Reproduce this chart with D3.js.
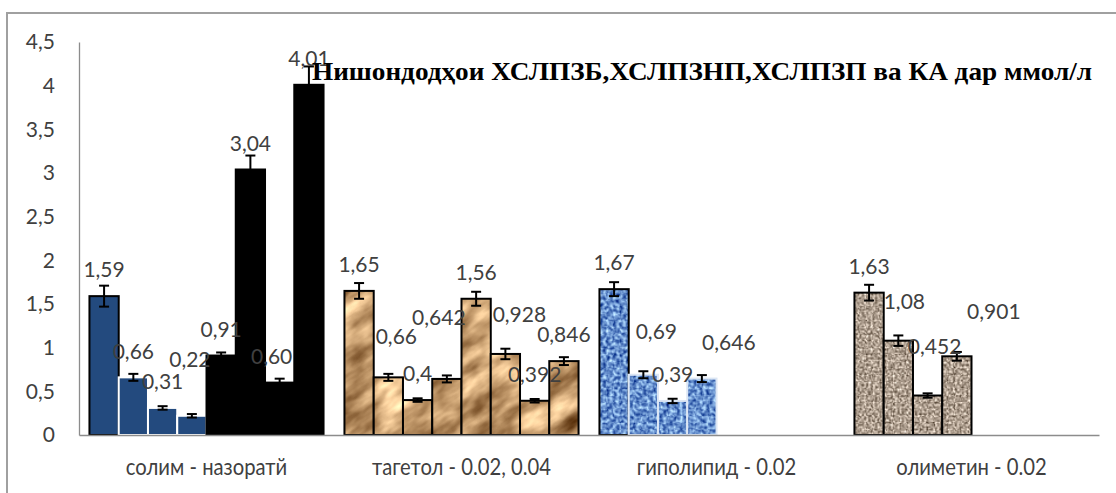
<!DOCTYPE html>
<html>
<head>
<meta charset="utf-8">
<script src="https://cdn.jsdelivr.net/npm/d3@7"></script>
<style>
  body { margin: 0; background: #fff; }
  #chart svg { display: block; }
</style>
</head>
<body>
<div id="chart"></div>
<script>
// категорияҳо ва қиматҳо
const categories = ["солим - назоратй", "тагетол - 0.02, 0.04", "гиполипид - 0.02", "олиметин - 0.02"];
const solimValues = [1.59, 0.66, 0.31, 0.22, 0.91, 3.04, 0.60, 4.01];
const solimErrors = [0.12, 0.04, 0.02, 0.02, 0.035, 0.16, 0.045, 0.21];
const tagetolValues = [1.65, 0.66, 0.4, 0.642, 1.56, 0.928, 0.392, 0.846];
const tagetolErrors = [0.09, 0.04, 0.02, 0.04, 0.08, 0.06, 0.02, 0.045];
const gipolipidValues = [1.67, 0.69, 0.39, 0.646];
const gipolipidErrors = [0.08, 0.04, 0.025, 0.04];
const olimetinValues = [1.63, 1.08, 0.452, 0.901];
const olimetinErrors = [0.09, 0.06, 0.025, 0.05];
const yTicks = [0, 0.5, 1, 1.5, 2, 2.5, 3, 3.5, 4, 4.5];
const titleText = "Нишондодҳои ХСЛПЗБ,ХСЛПЗНП,ХСЛПЗП ва КА дар ммол/л";

const groupValues = [solimValues, tagetolValues, gipolipidValues, olimetinValues];
const groupErrors = [solimErrors, tagetolErrors, gipolipidErrors, olimetinErrors];
const seriesCount = 8;

// ҷадвал барои чизҳо
const rows = [];
groupValues.forEach((vals, ci) => {
    vals.forEach((v, si) => {
        rows.push({ ci, si, cat: categories[ci], value: v, err: groupErrors[ci][si] });
    });
});

// ҷойивазкунии тамғаҳо (дар расм дастӣ гузошта шудаанд)
const labelNudge = {
    "0-3": [-2, -30], "0-6": [-8, 0],
    "1-1": [8, -15], "1-3": [-8, -35], "1-5": [14, -13],
    "2-1": [13, -17], "2-3": [27, -10],
    "3-1": [6, -13], "3-2": [7, -23], "3-3": [37, -19]
};

const width = 1116;
const height = 493;
const margin = { top: 42, right: 17, bottom: 58, left: 79 };

const svg = d3.select("#chart")
    .append("svg")
    .attr("width", width)
    .attr("height", height);

// текстураҳо
const defs = svg.append("defs");
const textures = [
    { id: "tan", freq: "0.018 0.045", oct: 4, rot: -35, m: [1.2, 0.14, 1.2, -0.02, 1.1, -0.15] },
    { id: "blue", freq: "0.3", oct: 2, rot: 0, m: [1.3, -0.25, 1.3, -0.09, 0.9, 0.35] },
    { id: "granite", freq: "0.45", oct: 2, rot: 0, m: [1.2, 0.08, 1.2, 0.02, 1.2, -0.04] }
];
textures.forEach(t => {
    const f = defs.append("filter").attr("id", "f-" + t.id)
        .attr("color-interpolation-filters", "sRGB")
        .attr("x", 0).attr("y", 0).attr("width", 1).attr("height", 1);
    f.append("feTurbulence")
        .attr("type", "fractalNoise")
        .attr("baseFrequency", t.freq)
        .attr("numOctaves", t.oct)
        .attr("seed", 3)
        .attr("result", "n");
    f.append("feColorMatrix")
        .attr("in", "n")
        .attr("type", "matrix")
        .attr("values", `${t.m[0]} 0 0 0 ${t.m[1]}  ${t.m[2]} 0 0 0 ${t.m[3]}  ${t.m[4]} 0 0 0 ${t.m[5]}  0 0 0 0 1`);
    const p = defs.append("pattern").attr("id", "tex-" + t.id)
        .attr("patternUnits", "userSpaceOnUse")
        .attr("patternTransform", `rotate(${t.rot})`)
        .attr("x", -600).attr("y", -600).attr("width", 2400).attr("height", 2400);
    p.append("rect").attr("x", -600).attr("y", -600).attr("width", 2400).attr("height", 2400)
        .attr("filter", `url(#f-${t.id})`);
});

const barFill = (d) => {
    if (d.ci === 0) return d.si < 4 ? "#234a7e" : "#000";
    if (d.ci === 1) return "url(#tex-tan)";
    if (d.ci === 2) return "url(#tex-blue)";
    return "url(#tex-granite)";
};
const barStroke = (d) => {
    if (d.ci === 0 && d.si >= 1 && d.si <= 3) return "#fff";
    if (d.ci === 2 && d.si >= 1) return "#dce6f4";
    return "#000";
};

// чорчӯба
svg.append("path")
    .attr("d", `M7,${height} V13 H${width}`)
    .attr("fill", "none")
    .attr("stroke", "#a0a0a0")
    .attr("stroke-width", 2);

// шкалаҳо
const x = d3.scaleBand()
    .domain(categories)
    .range([margin.left, width - margin.right])
    .paddingInner(0.082)
    .paddingOuter(0.041);

const xInner = d3.scaleBand()
    .domain(d3.range(seriesCount))
    .range([0, x.bandwidth()])
    .padding(0);

const y = d3.scaleLinear()
    .domain([0, 4.5])
    .range([height - margin.bottom, margin.top]);

const fmt = (d) => d.ci === 0 ? d.value.toFixed(2).replace(".", ",") : String(d.value).replace(".", ",");
const labelFont = "Lato, 'Open Sans', sans-serif";
const cx = d => x(d.cat) + xInner(d.si) + xInner.bandwidth() / 2;

// тири y
const yAxis = svg.append("g")
    .attr("transform", `translate(${margin.left},0)`)
    .call(d3.axisLeft(y).tickValues(yTicks).tickSize(0).tickPadding(24)
        .tickFormat(d => String(d).replace(".", ",")));
yAxis.select(".domain").attr("stroke", "#8c8c8c").attr("stroke-width", 1.3);
yAxis.selectAll("text")
    .attr("font-family", labelFont)
    .attr("font-size", 21)
    .attr("fill", "#404040");

// сутунҳо ва хатоҳо аз рӯи силсила
for (let si = 0; si < seriesCount; si++) {
    const sd = rows.filter(d => d.si === si);
    const g = svg.append("g").attr("class", "series-" + si);

    g.selectAll("rect")
        .data(sd)
        .enter()
        .append("rect")
        .attr("x", d => x(d.cat) + xInner(d.si))
        .attr("y", d => y(d.value))
        .attr("width", xInner.bandwidth())
        .attr("height", d => y(0) - y(d.value))
        .attr("fill", barFill)
        .attr("stroke", barStroke)
        .attr("stroke-width", 2);

    const eb = g.selectAll(".err")
        .data(sd)
        .enter()
        .append("g")
        .attr("class", "err")
        .attr("stroke", "#000")
        .attr("stroke-width", 2);
    eb.append("line")
        .attr("x1", cx).attr("x2", cx)
        .attr("y1", d => y(d.value + d.err)).attr("y2", d => y(d.value - d.err));
    eb.append("line")
        .attr("x1", d => cx(d) - 5).attr("x2", d => cx(d) + 5)
        .attr("y1", d => y(d.value + d.err)).attr("y2", d => y(d.value + d.err));
    eb.append("line")
        .attr("x1", d => cx(d) - 5).attr("x2", d => cx(d) + 5)
        .attr("y1", d => y(d.value - d.err)).attr("y2", d => y(d.value - d.err));
}

// тамғаҳои қимат
svg.append("g").selectAll(".countLabel")
    .data(rows)
    .enter()
    .append("text")
    .attr("class", "countLabel")
    .attr("x", d => cx(d) + (labelNudge[d.ci + "-" + d.si] || [0, 0])[0])
    .attr("y", d => y(d.value) - 24 + (labelNudge[d.ci + "-" + d.si] || [0, 0])[1])
    .attr("text-anchor", "middle")
    .attr("dominant-baseline", "middle")
    .attr("font-family", labelFont)
    .attr("font-size", 21)
    .attr("fill", "#404040")
    .text(fmt);

// тири x
const xAxis = svg.append("g")
    .attr("transform", `translate(0,${y(0)})`)
    .call(d3.axisBottom(x).tickSize(0).tickSizeOuter(0));
xAxis.select(".domain").attr("stroke", "#8c8c8c").attr("stroke-width", 1.3);
xAxis.selectAll("text")
    .attr("y", 32)
    .attr("dy", "0.35em")
    .attr("transform", "scale(0.88,1)")
    .attr("font-family", labelFont)
    .attr("font-size", 23)
    .attr("fill", "#404040");

// сарлавҳа
svg.append("text")
    .attr("x", 312)
    .attr("y", 80)
    .attr("font-family", "'Liberation Serif', 'Times New Roman', serif")
    .attr("font-weight", "bold")
    .attr("font-size", 25)
    .attr("textLength", 780)
    .attr("lengthAdjust", "spacingAndGlyphs")
    .attr("fill", "#000")
    .text(titleText);
</script>
</body>
</html>
